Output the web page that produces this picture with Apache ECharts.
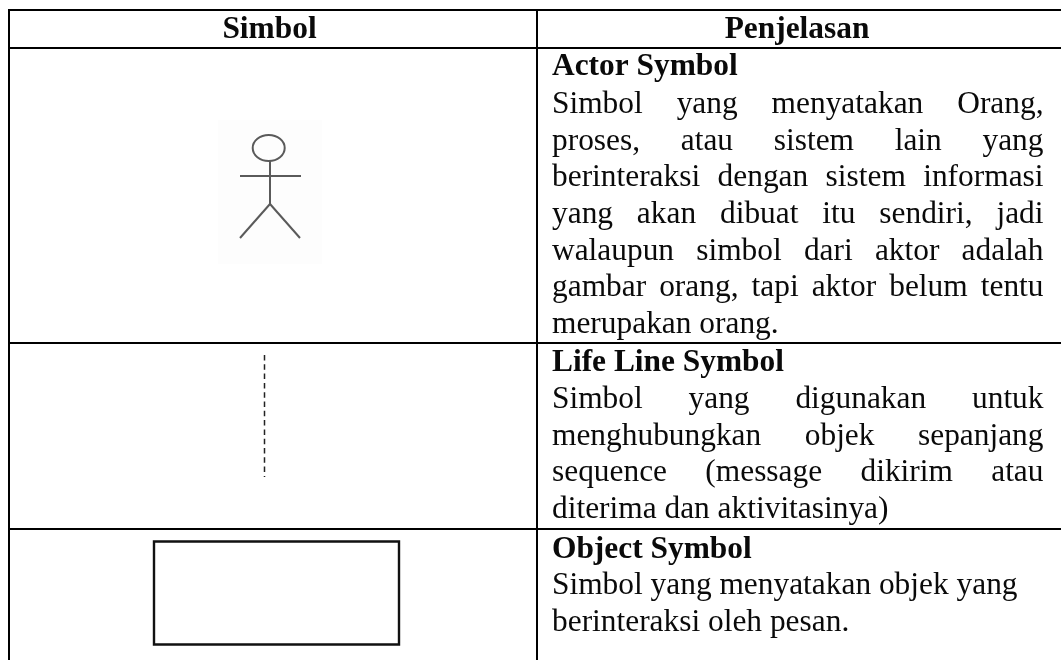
<!DOCTYPE html>
<html>
<head>
<meta charset="utf-8">
<style>
  html, body { margin: 0; padding: 0; background: #fff; }
  #chart { width: 1061px; height: 660px; }
</style>
<script src="https://cdn.jsdelivr.net/npm/echarts@6/dist/echarts.min.js"></script>
</head>
<body>
<div id="chart"></div>
<script>
const columnHeaders = ['Simbol', 'Penjelasan']
const rowTitles = ['Actor Symbol', 'Life Line Symbol', 'Object Symbol']
const actorLines = [
  'Simbol yang menyatakan Orang,',
  'proses, atau sistem lain yang',
  'berinteraksi dengan sistem informasi',
  'yang akan dibuat itu sendiri, jadi',
  'walaupun simbol dari aktor adalah',
  'gambar orang, tapi aktor belum tentu',
  'merupakan orang.'
]
const lifeLineLines = [
  'Simbol yang digunakan untuk',
  'menghubungkan objek sepanjang',
  'sequence (message dikirim atau',
  'diterima dan aktivitasinya)'
]
const objectLines = [
  'Simbol yang menyatakan objek yang',
  'berinteraksi oleh pesan.'
]

const FONT = '"Liberation Serif", "Times New Roman", serif'
const FONT_SIZE = 31.4
const BASELINE_SHIFT = FONT_SIZE * 0.3375 // zrender has no alphabetic anchor, so go through middle
const TEXT_LEFT = 552
const TEXT_RIGHT = 1043.5
const INK = '#0a0a0a'
const ACTOR_INK = '#5a5a5a'

const measure = document.createElement('canvas').getContext('2d')

function textEl(text, x, baseline, bold, align) {
  return {
    type: 'text',
    silent: true,
    style: {
      text, x,
      y: baseline - BASELINE_SHIFT,
      fill: INK,
      font: `${bold ? 'bold ' : ''}${FONT_SIZE}px ${FONT}`,
      textAlign: align || 'left',
      verticalAlign: 'middle'
    }
  }
}

function lineEl(x1, y1, x2, y2, style) {
  return { type: 'line', silent: true, shape: { x1, y1, x2, y2 }, style: { stroke: '#000', lineWidth: 2, ...style } }
}

function actorLine(x1, y1, x2, y2) {
  return lineEl(x1, y1, x2, y2, { stroke: ACTOR_INK, lineWidth: 2 })
}

// lays out one paragraph line, spreading words to the column edge when justified
function paragraphLine(text, baseline, justify) {
  if (!justify) return [textEl(text, TEXT_LEFT, baseline)]
  measure.font = `${FONT_SIZE}px ${FONT}`
  const words = text.split(' ')
  const wordWidths = words.map(w => measure.measureText(w).width)
  const used = wordWidths.reduce((a, b) => a + b, 0)
  const gap = (TEXT_RIGHT - TEXT_LEFT - used) / (words.length - 1)
  let x = TEXT_LEFT
  return words.map((w, i) => {
    const el = textEl(w, x, baseline)
    x += wordWidths[i] + gap
    return el
  })
}

function paragraph(lines, baselines, justifiedCount) {
  return lines.flatMap((l, i) => paragraphLine(l, baselines[i], i < justifiedCount))
}

const elements = [
  // table rules, open at the bottom and right like the cropped source
  lineEl(8, 10, 1061, 10),
  lineEl(8, 48, 1061, 48),
  lineEl(8, 343, 1061, 343),
  lineEl(8, 529, 1061, 529),
  lineEl(9, 9, 9, 660),
  lineEl(537, 9, 537, 660),

  textEl(columnHeaders[0], 269.5, 40.5, true, 'center'),
  textEl(columnHeaders[1], 797, 40.5, true, 'center'),

  textEl(rowTitles[0], TEXT_LEFT, 77, true),
  ...paragraph(actorLines, [115.5, 152, 188.7, 225.3, 262, 298.7, 335.3], 6),

  textEl(rowTitles[1], TEXT_LEFT, 373.5, true),
  ...paragraph(lifeLineLines, [410.5, 447.3, 483.8, 520.7], 3),

  textEl(rowTitles[2], TEXT_LEFT, 560, true),
  ...paragraph(objectLines, [596.5, 633], 0),

  // actor
  { type: 'rect', silent: true, shape: { x: 218, y: 120, width: 104, height: 144 }, style: { fill: '#fdfdfd' } },
  { type: 'ellipse', silent: true, shape: { cx: 268.7, cy: 148, rx: 16, ry: 13 }, style: { fill: 'none', stroke: ACTOR_INK, lineWidth: 2 } },
  actorLine(270, 161, 270, 204),
  actorLine(240, 176, 301, 176),
  actorLine(270, 204, 240, 238),
  actorLine(270, 204, 300, 238),

  // life line
  lineEl(264.5, 355, 264.5, 477, { stroke: '#222', lineWidth: 1.5, lineDash: [5.5, 3.8] }),

  // object box
  { type: 'rect', silent: true, shape: { x: 154, y: 541.5, width: 245, height: 103 }, style: { fill: 'none', stroke: '#111', lineWidth: 2.4 } }
]

const chart = echarts.init(document.getElementById('chart'))
chart.setOption({
  backgroundColor: '#fff',
  animation: false,
  graphic: { elements }
})
</script>
</body>
</html>
